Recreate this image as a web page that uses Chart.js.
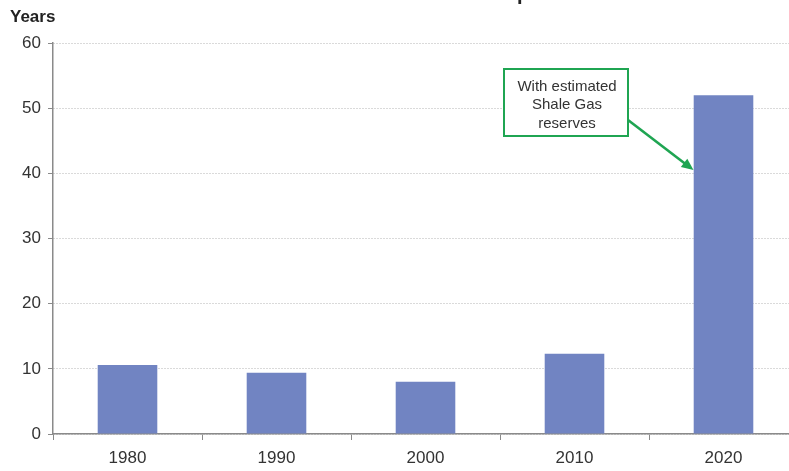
<!DOCTYPE html>
<html>
<head>
<meta charset="utf-8">
<script src="https://cdn.jsdelivr.net/npm/chart.js@4/dist/chart.umd.min.js"></script>
<style>
  html, body { margin: 0; padding: 0; background: #fff; overflow: hidden; }
  #wrap { position: relative; width: 800px; height: 471px; }
</style>
</head>
<body>
<div id="wrap"><canvas id="chart"></canvas></div>
<script>
const years = ['1980', '1990', '2000', '2010', '2020'];
const reserveYears = [10.6, 9.4, 8.0, 12.3, 52.0];
const yTicks = [0, 10, 20, 30, 40, 50, 60];
const noteLines = ['With estimated', 'Shale Gas', 'reserves'];

const axisGrey = '#8a8a8a';
const textColor = '#333333';
const font = "'Liberation Sans', Arial, sans-serif";

// clipped title at the top edge + "Years" label + callout box with arrow
const extras = {
    id: 'extras',
    afterDraw(chart) {
        const c = chart.ctx;
        const x = chart.scales.x, y = chart.scales.y;
        c.save();

        c.font = `bold 20px ${font}`;
        c.fillStyle = '#222';
        c.textBaseline = 'alphabetic';
        const title = 'Gas Reserves to Consumption';
        const pre = c.measureText('Gas Reserves to Consum').width;
        c.fillText(title, 517 - pre, 0);

        c.font = `bold 17px ${font}`;
        c.fillStyle = '#222';
        c.textBaseline = 'middle';
        c.fillText('Years', 10, 17);

        // arrow from box to the 2020 bar
        const barLeft = x.getPixelForValue(4) - 30;
        const tipX = barLeft, tipY = y.getPixelForValue(40.5);
        const sx = 628, sy = 120;
        c.strokeStyle = '#1fa552';
        c.fillStyle = '#1fa552';
        c.lineWidth = 2.6;
        const ang = Math.atan2(tipY - sy, tipX - sx);
        c.beginPath();
        c.moveTo(sx, sy);
        c.lineTo(tipX - 8 * Math.cos(ang), tipY - 8 * Math.sin(ang));
        c.stroke();
        c.beginPath();
        c.moveTo(tipX, tipY);
        c.lineTo(tipX - 13 * Math.cos(ang - 0.42), tipY - 13 * Math.sin(ang - 0.42));
        c.lineTo(tipX - 13 * Math.cos(ang + 0.42), tipY - 13 * Math.sin(ang + 0.42));
        c.closePath();
        c.fill();

        // callout box
        c.fillStyle = '#ffffff';
        c.fillRect(504, 69, 124, 67);
        c.lineWidth = 2;
        c.strokeRect(504, 69, 124, 67);
        c.fillStyle = textColor;
        c.font = `15px ${font}`;
        c.textAlign = 'center';
        c.textBaseline = 'middle';
        noteLines.forEach((t, i) => c.fillText(t, 567, 86.5 + i * 18.5));

        c.restore();
    }
};

new Chart(document.getElementById('chart').getContext('2d'), {
    type: 'bar',
    data: {
        labels: years,
        datasets: [{
            data: reserveYears,
            backgroundColor: '#7184c2',
            borderWidth: 0,
            barPercentage: 0.4,
            categoryPercentage: 1.0,
        }],
    },
    options: {
        responsive: true,
        maintainAspectRatio: false,
        animation: false,
        layout: { padding: { top: 43, right: 2, left: 0, bottom: 0 } },
        plugins: {
            legend: { display: false },
            tooltip: { enabled: false },
        },
        scales: {
            x: {
                afterFit: s => { s.height = 37; },
                grid: {
                    offset: true,
                    drawOnChartArea: false,
                    tickLength: 6,
                    tickColor: axisGrey,
                },
                border: { color: axisGrey, width: 1.5 },
                ticks: {
                    color: textColor,
                    font: { family: font, size: 17 },
                    padding: 8,
                },
            },
            y: {
                min: 0,
                max: 60,
                afterFit: s => { s.width = 53; },
                afterBuildTicks: s => { s.ticks = yTicks.map(v => ({ value: v })); },
                grid: {
                    color: '#b4b4b4',
                    tickColor: axisGrey,
                    tickLength: 5,
                    lineWidth: 1,
                },
                border: { color: axisGrey, width: 1.5, dash: [1, 2] },
                ticks: {
                    color: textColor,
                    font: { family: font, size: 17 },
                    padding: 7,
                },
            },
        },
    },
    plugins: [extras],
});
</script>
</body>
</html>
